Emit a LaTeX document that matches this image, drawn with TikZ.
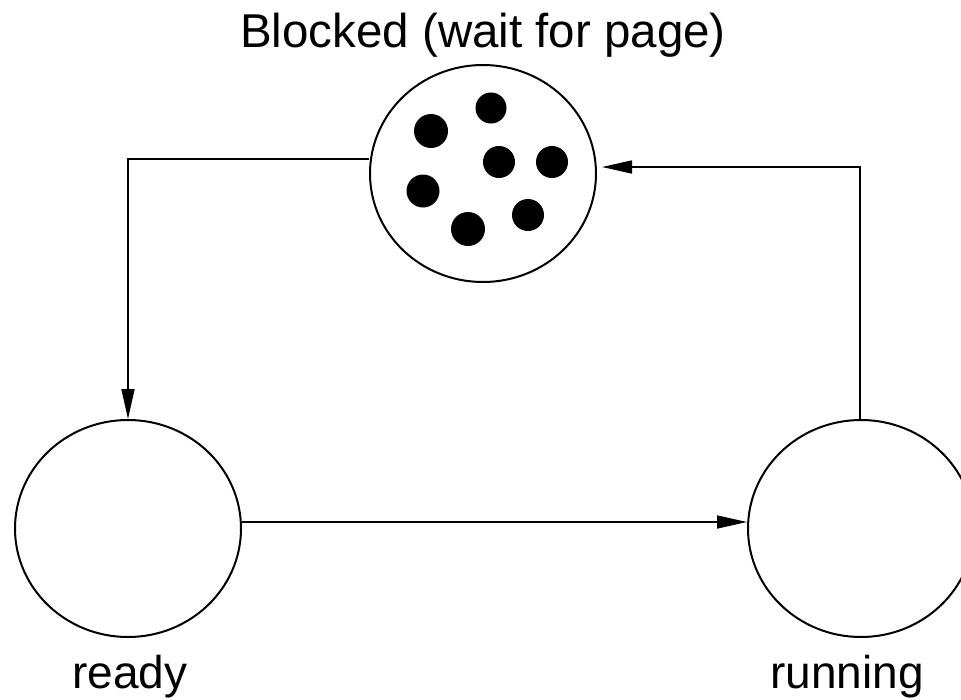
\documentclass[tikz,border=0pt]{standalone}
\usepackage{fontspec}
\setmainfont{Liberation Sans}
\usetikzlibrary{arrows.meta,shapes.geometric}
\begin{document}
\begin{tikzpicture}[x=1pt,y=-1pt,
  state/.style={draw,ellipse,line width=2pt,minimum width=226pt,minimum height=217pt,inner sep=0pt},
  dot/.style={fill=black,circle,inner sep=0pt},
  arr/.style={line width=1.6pt,-{Triangle[length=30pt,width=13pt]}},
  lbl/.style={anchor=base,inner sep=0pt,font=\fontsize{46}{50}\selectfont},
  title/.style={anchor=base,inner sep=0pt,font=\fontsize{47.5}{52}\selectfont}]
\useasboundingbox (0,0) rectangle (961,699);
\clip (0,0) rectangle (961,699);
\node[state] (blocked) at (483,173.5) {};
\node[state] (ready) at (128,528.5) {};
\node[state] (running) at (861,528.5) {};
\node[dot,minimum size=34pt] (d1) at (431,131) {};
\node[dot,minimum size=31pt] (d2) at (491,108) {};
\node[dot,minimum size=32pt] (d3) at (499,162) {};
\node[dot,minimum size=32pt] (d4) at (552,162) {};
\node[dot,minimum size=33pt] (d5) at (423,191) {};
\node[dot,minimum size=34pt] (d6) at (468,229) {};
\node[dot,minimum size=32pt] (d7) at (528,215) {};
\node[title] (tblocked) at (483,47) {Blocked (wait for page)};
\node[lbl] (tready) at (130,688) {ready};
\node[lbl] (trunning) at (847,688) {running};
\draw[arr] ([yshift=14.5pt]blocked.west) -| (ready.north);
\draw[arr] ([yshift=6.5pt]ready.east) -- ([yshift=6.5pt]running.west);
\coordinate (bin) at ([xshift=5pt,yshift=6.5pt]blocked.east);
\draw[arr] ([xshift=-1pt]running.north) |- (bin);
\end{tikzpicture}
\end{document}
